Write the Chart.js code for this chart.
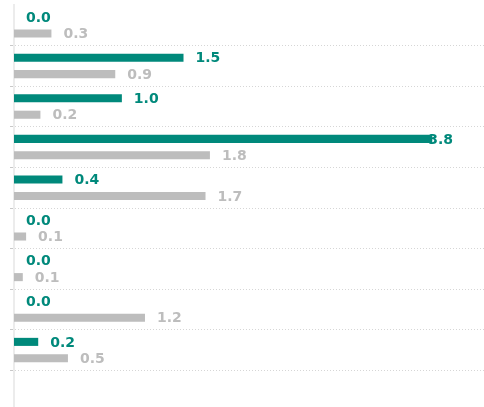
<!DOCTYPE html>
<html>
<head>
<meta charset="utf-8">
<script src="https://cdn.jsdelivr.net/npm/chart.js@4"></script>
<style>
  html, body { margin: 0; padding: 0; background: #fff; overflow: hidden; }
  #wrap { width: 484px; height: 411px; position: relative; }
</style>
</head>
<body>
<div id="wrap"><canvas id="graph"></canvas></div>
<script>
// categories (no category names are shown in the picture); last one is an empty spacer row
var categories = ["1", "2", "3", "4", "5", "6", "7", "8", "9", ""];
var tealValues = [0, 1.54, 0.98, 3.8, 0.44, 0, 0, 0, 0.22, null];
var grayValues = [0.34, 0.92, 0.24, 1.78, 1.74, 0.11, 0.08, 1.19, 0.49, null];

var tealColor = "#00897b";
var grayColor = "#bdbdbd";

function barColor(color) {
  return function (c) {
    return c.raw === 0 ? "rgba(0,0,0,0)" : color;
  };
}

var valueLabels = {
  id: "valueLabels",
  afterDatasetsDraw: function (chart) {
    var ctx = chart.ctx;
    ctx.save();
    ctx.font = "bold 14px 'DejaVu Sans', Verdana, sans-serif";
    ctx.textBaseline = "middle";
    ctx.textAlign = "left";
    chart.data.datasets.forEach(function (ds, di) {
      var meta = chart.getDatasetMeta(di);
      meta.data.forEach(function (bar, i) {
        var v = ds.data[i];
        if (v === null || v === undefined) return;
        var text = v.toFixed(1);
        var w = ctx.measureText(text).width;
        var x = Math.min(bar.x + 12, chart.chartArea.right - 31 - w);
        ctx.fillStyle = ds.labelColor;
        ctx.fillText(text, x, bar.y + 1);
      });
    });
    ctx.restore();
  }
};

var config = {
  type: "bar",
  data: {
    labels: categories,
    datasets: [{
      data: tealValues,
      backgroundColor: barColor(tealColor),
      labelColor: tealColor
    }, {
      data: grayValues,
      backgroundColor: barColor(grayColor),
      labelColor: grayColor
    }]
  },
  options: {
    indexAxis: "y",
    responsive: true,
    maintainAspectRatio: false,
    animation: false,
    categoryPercentage: 0.81,
    barPercentage: 0.49,
    layout: {
      padding: { left: 10, top: 5, right: 0, bottom: 0 }
    },
    plugins: {
      legend: { display: false },
      tooltip: { enabled: false }
    },
    scales: {
      x: {
        display: false,
        min: 0,
        max: 4.27
      },
      y: {
        ticks: { display: false },
        grid: {
          color: function (c) { return c.index === 0 ? "rgba(0,0,0,0)" : "#d6d6d6"; },
          tickColor: function (c) { return c.index === 0 ? "rgba(0,0,0,0)" : "#c8c8c8"; },
          tickLength: 4
        },
        border: {
          display: true,
          color: "#ececec",
          width: 2,
          dash: [1, 2]
        }
      }
    }
  },
  plugins: [valueLabels]
};

new Chart(document.getElementById("graph"), config);
</script>
</body>
</html>
